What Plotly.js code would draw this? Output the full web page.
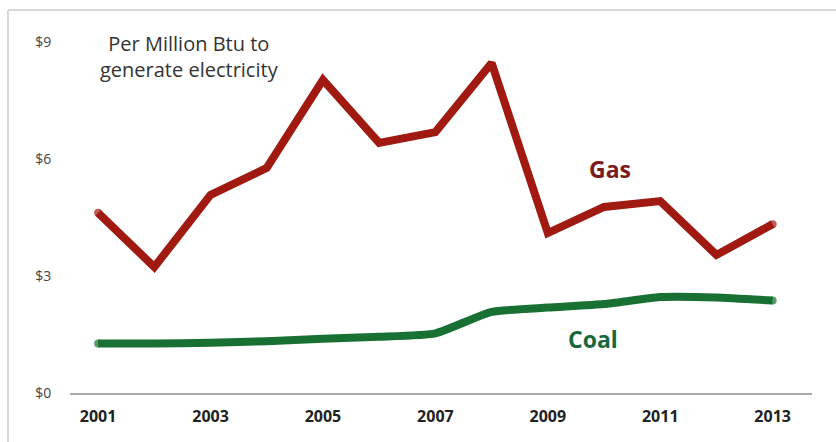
<!DOCTYPE html>
<html>
<head>
<meta charset="utf-8">
<script src="https://cdn.plot.ly/plotly-3.0.1.min.js"></script>
<style>
html,body{margin:0;padding:0;background:#fff;}
#chart{width:836px;height:442px;}
</style>
</head>
<body>
<div id="chart"></div>
<script>
var years = [2001,2002,2003,2004,2005,2006,2007,2008,2009,2010,2011,2012,2013];
var gasPrice = [4.62,3.23,5.08,5.77,8.03,6.41,6.69,8.46,4.10,4.77,4.92,3.54,4.33];
var coalPrice = [1.27,1.27,1.29,1.33,1.39,1.44,1.53,2.08,2.19,2.28,2.46,2.45,2.37];
var xTicks = [2001,2003,2005,2007,2009,2011,2013];
var yTicks = [0,3,6,9];
var yTickLabels = ['$0','$3','$6','$9'];

// round caps at line ends
function endCaps(n, s){ return years.map(function(_, i){ return (i === 0 || i === n - 1) ? s : 0; }); }

var traces = [
  {x: years, y: gasPrice, type: 'scatter', mode: 'lines+markers', name: 'Gas',
   line: {color: '#a11a12', width: 8, shape: 'linear'},
   marker: {color: '#a11a12', size: endCaps(years.length, 8), line: {width: 0}}, hoverinfo: 'x+y'},
  {x: years, y: coalPrice, type: 'scatter', mode: 'lines+markers', name: 'Coal',
   line: {color: '#187032', width: 8, shape: 'spline', smoothing: 0.5},
   marker: {color: '#187032', size: endCaps(years.length, 8), line: {width: 0}}, hoverinfo: 'x+y'}
];

var plotL = 70, plotR = 812, plotT = 42, plotB = 393, W = 836, H = 442;
function px(x){ return (x - plotL) / (plotR - plotL); }
function py(y){ return (plotB - y) / (plotB - plotT); }

var layout = {
  width: W, height: H,
  margin: {l: plotL, r: W - plotR, t: plotT, b: H - plotB},
  paper_bgcolor: '#fff', plot_bgcolor: '#fff',
  showlegend: false,
  font: {family: 'Open Sans, sans-serif', color: '#333'},
  xaxis: {
    range: [2000.5, 2013.7],
    tickvals: xTicks,
    ticktext: xTicks.map(function(v){ return '<b>' + v + '</b>'; }),
    tickfont: {size: 16, color: '#222', family: 'Open Sans, sans-serif'},
    showgrid: false, zeroline: false,
    showline: true, linecolor: '#a8a8a8', linewidth: 1.5,
    ticks: 'outside', ticklen: 8, tickcolor: 'rgba(0,0,0,0)'
  },
  yaxis: {
    range: [0, 9],
    tickvals: yTicks,
    ticktext: yTickLabels,
    tickfont: {size: 14, color: '#444', family: 'Open Sans, sans-serif'},
    showgrid: false, zeroline: false, showline: false,
    ticks: 'outside', ticklen: 15, tickcolor: 'rgba(0,0,0,0)'
  },
  shapes: [
    {type: 'line', xref: 'paper', yref: 'paper', x0: px(8), x1: px(W), y0: py(10), y1: py(10),
     line: {color: '#cccccc', width: 1.5}},
    {type: 'line', xref: 'paper', yref: 'paper', x0: px(8), x1: px(8), y0: py(10), y1: py(H),
     line: {color: '#cccccc', width: 1.5}}
  ],
  annotations: [
    {xref: 'paper', yref: 'paper', x: px(189), y: py(56), text: 'Per Million Btu to<br>generate electricity',
     showarrow: false, align: 'center', xanchor: 'center', yanchor: 'middle',
     font: {size: 20, color: '#333', family: 'Open Sans, sans-serif'}},
    {xref: 'paper', yref: 'paper', x: px(610), y: py(169), text: '<b>Gas</b>',
     showarrow: false, xanchor: 'center', yanchor: 'middle',
     font: {size: 23, color: '#7d1a1c', family: 'Open Sans, sans-serif'}},
    {xref: 'paper', yref: 'paper', x: px(593), y: py(339), text: '<b>Coal</b>',
     showarrow: false, xanchor: 'center', yanchor: 'middle',
     font: {size: 23, color: '#17683a', family: 'Open Sans, sans-serif'}}
  ]
};

Plotly.newPlot('chart', traces, layout, {displayModeBar: false, staticPlot: true});
</script>
</body>
</html>
